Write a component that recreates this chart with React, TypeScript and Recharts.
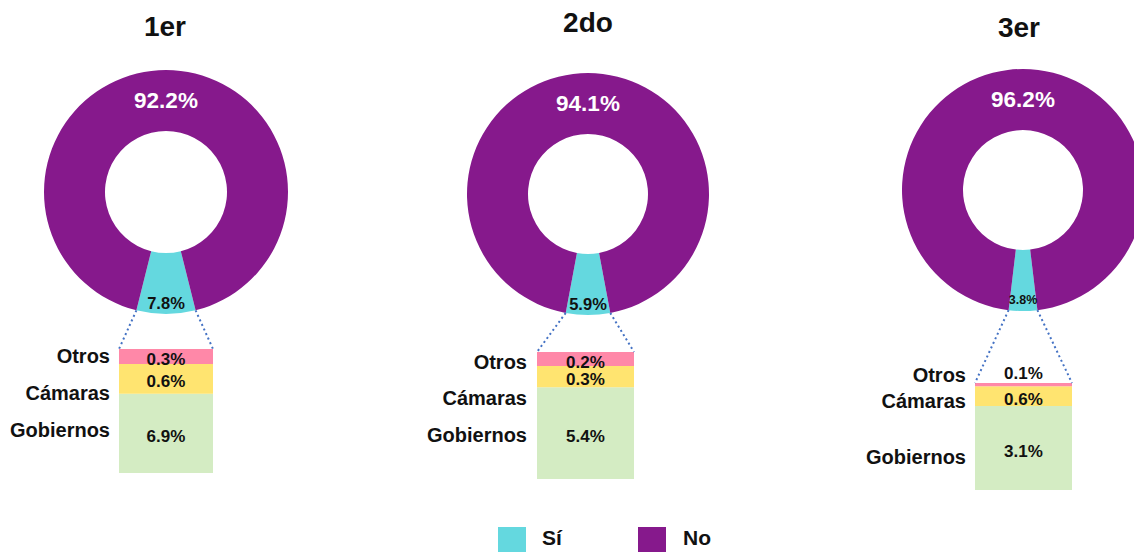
import { PieChart, Pie, Cell, BarChart, Bar, XAxis, YAxis, LabelList } from "recharts"

const periods = ["1er", "2do", "3er"]
const answerNames = ["Sí", "No"]
const siValues = [7.8, 5.9, 3.8]
const noValues = [92.2, 94.1, 96.2]

const splitNames = ["Gobiernos", "Cámaras", "Otros"]
const gobiernos = [6.9, 5.4, 3.1]
const camaras = [0.6, 0.3, 0.6]
const otros = [0.3, 0.2, 0.1]

const ANSWER_COLORS = ["#64d8df", "#86198c"]
const SPLIT_COLORS = ["#d4ecc3", "#ffe470", "#ff88a8"]
const FONT = '"Liberation Sans", Arial, sans-serif'
const RADIAN = Math.PI / 180
const PAD = 30 // room above the stacked bar for a label that does not fit

// where each panel sits on the page
const PANELS = [
  { titleX: 165, titleY: 27, cx: 166, cy: 192, outer: 122, inner: 61, siFont: 16.5, barX: 119, barW: 94, barTop: 349, barH: 124, floor: 5.3, nameRight: 110, nameY: [430, 393, 356] },
  { titleX: 588, titleY: 23, cx: 588, cy: 194, outer: 121, inner: 60, siFont: 16.5, barX: 537, barW: 97, barTop: 352, barH: 127, floor: 4.1, nameRight: 527, nameY: [435, 398, 362] },
  { titleX: 1019, titleY: 28, cx: 1023, cy: 190, outer: 121, inner: 60, siFont: 12.5, barX: 975, barW: 97, barTop: 383, barH: 107, floor: 0.55, nameRight: 966, nameY: [457, 401, 375] },
]

function pieLabel(siFont: number) {
  return (props: any) => {
    const { cx, cy, midAngle, innerRadius, outerRadius, index, value } = props
    const r = index === 0 ? outerRadius - 11 : (innerRadius + outerRadius) / 2
    const x = cx + r * Math.cos(-midAngle * RADIAN)
    const y = cy + r * Math.sin(-midAngle * RADIAN)
    return (
      <text
        x={x}
        y={y}
        textAnchor="middle"
        dominantBaseline="central"
        fill={index === 0 ? "#111" : "#fff"}
        fontSize={index === 0 ? siFont : 22.5}
        fontWeight="bold"
        fontFamily={FONT}
      >
        {value.toFixed(1)}%
      </text>
    )
  }
}

function segmentLabel(barH: number) {
  return (props: any) => {
    const { x, y, width, height, value } = props
    const bottom = Math.min(y + height, PAD + barH)
    const h = bottom - y
    const ty = h < 8 ? y - 10 : (y + bottom) / 2 + 3
    return (
      <text
        x={x + width / 2}
        y={ty}
        textAnchor="middle"
        dominantBaseline="central"
        fill="#111"
        fontSize={17}
        fontWeight="bold"
        fontFamily={FONT}
      >
        {Number(value).toFixed(1)}%
      </text>
    )
  }
}

export default function App() {
  const pies = periods.map((p, i) => ({
    period: p,
    data: [
      { name: answerNames[0], value: siValues[i] },
      { name: answerNames[1], value: noValues[i] },
    ],
    start: -90 - siValues[i] * 1.8,
  }))

  return (
    <div
      style={{
        position: "absolute",
        left: 0,
        top: 0,
        width: 1134,
        height: 552,
        overflow: "hidden",
        background: "#fff",
        fontFamily: FONT,
      }}
    >
      <div style={{ position: "absolute", left: 0, top: 0 }}>
        <PieChart width={1134} height={552} margin={{ top: 0, right: 0, bottom: 0, left: 0 }}>
          {pies.map((p, i) => (
            <Pie
              key={p.period}
              data={p.data}
              dataKey="value"
              nameKey="name"
              cx={PANELS[i].cx}
              cy={PANELS[i].cy}
              innerRadius={PANELS[i].inner}
              outerRadius={PANELS[i].outer}
              startAngle={p.start}
              endAngle={p.start + 360}
              stroke="none"
              isAnimationActive={false}
              labelLine={false}
              label={pieLabel(PANELS[i].siFont)}
            >
              {p.data.map((d, j) => (
                <Cell key={d.name} fill={ANSWER_COLORS[j]} />
              ))}
            </Pie>
          ))}
        </PieChart>
      </div>

      {periods.map((p, i) => {
        const L = PANELS[i]
        const rows = [{ name: p, gob: gobiernos[i], cam: camaras[i], otros: otros[i] }]
        const total = gobiernos[i] + camaras[i] + otros[i]
        return (
          <div key={p}>
            <div
              style={{
                position: "absolute",
                left: L.titleX - 60,
                width: 120,
                top: L.titleY - 16,
                height: 32,
                lineHeight: "32px",
                textAlign: "center",
                fontSize: 28,
                fontWeight: "bold",
                color: "#111",
              }}
            >
              {p}
            </div>
            <div style={{ position: "absolute", left: L.barX, top: L.barTop - PAD }}>
              <BarChart
                width={L.barW}
                height={L.barH + PAD}
                data={rows}
                margin={{ top: PAD, right: 0, bottom: 0, left: 0 }}
                barCategoryGap={0}
              >
                <XAxis dataKey="name" hide />
                <YAxis type="number" hide domain={[L.floor, total]} allowDataOverflow />
                <Bar dataKey="gob" stackId="s" fill={SPLIT_COLORS[0]} isAnimationActive={false}>
                  <LabelList dataKey="gob" content={segmentLabel(L.barH)} />
                </Bar>
                <Bar dataKey="cam" stackId="s" fill={SPLIT_COLORS[1]} isAnimationActive={false}>
                  <LabelList dataKey="cam" content={segmentLabel(L.barH)} />
                </Bar>
                <Bar dataKey="otros" stackId="s" fill={SPLIT_COLORS[2]} isAnimationActive={false}>
                  <LabelList dataKey="otros" content={segmentLabel(L.barH)} />
                </Bar>
              </BarChart>
            </div>
            {splitNames.map((n, k) => (
              <div
                key={n}
                style={{
                  position: "absolute",
                  left: L.nameRight - 140,
                  width: 140,
                  top: L.nameY[k] - 12,
                  height: 24,
                  lineHeight: "24px",
                  textAlign: "right",
                  fontSize: 20,
                  fontWeight: "bold",
                  color: "#111",
                }}
              >
                {n}
              </div>
            ))}
          </div>
        )
      })}

      {/* dotted guides from the Sí slice down to its breakdown */}
      <svg width={1134} height={552} style={{ position: "absolute", left: 0, top: 0, pointerEvents: "none" }}>
        {pies.map((p, i) => {
          const L = PANELS[i]
          const a0 = p.start * RADIAN
          const a1 = (p.start + siValues[i] * 3.6) * RADIAN
          return (
            <g key={p.period} stroke="#4472c4" strokeWidth={2} strokeDasharray="2 3" fill="none">
              <line x1={L.cx + L.outer * Math.cos(a0)} y1={L.cy - L.outer * Math.sin(a0)} x2={L.barX} y2={L.barTop} />
              <line x1={L.cx + L.outer * Math.cos(a1)} y1={L.cy - L.outer * Math.sin(a1)} x2={L.barX + L.barW} y2={L.barTop} />
            </g>
          )
        })}
      </svg>

      {answerNames.map((n, j) => (
        <div key={n}>
          <div
            style={{
              position: "absolute",
              left: j === 0 ? 498 : 638,
              top: 527,
              width: 28,
              height: 26,
              background: ANSWER_COLORS[j],
            }}
          />
          <div
            style={{
              position: "absolute",
              left: j === 0 ? 542 : 683,
              top: 525,
              height: 25,
              lineHeight: "25px",
              fontSize: 21,
              fontWeight: "bold",
              color: "#111",
            }}
          >
            {n}
          </div>
        </div>
      ))}
    </div>
  )
}
